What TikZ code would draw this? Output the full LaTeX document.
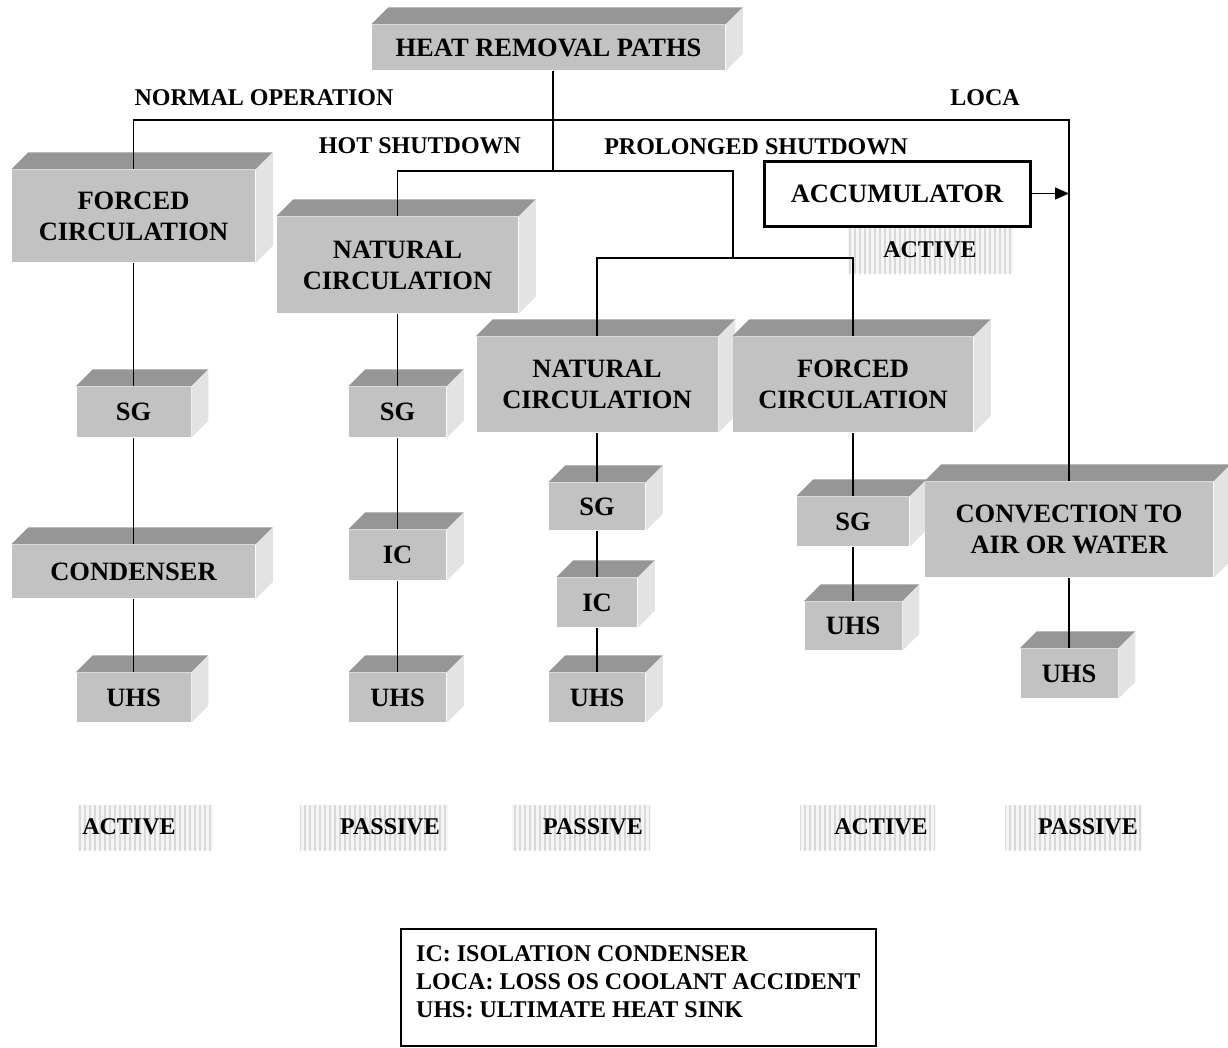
\documentclass[tikz,border=0pt]{standalone}
\usepackage{fontspec}
\setmainfont{Liberation Serif}
\usepackage{tikz}
\usetikzlibrary{arrows.meta, patterns.meta}

\definecolor{facefront}{gray}{0.76}
\definecolor{facetop}{gray}{0.59}
\definecolor{faceside}{gray}{0.89}

\begin{document}
\begin{tikzpicture}[x=1pt, y=-1pt, line width=1.5pt,
  font=\bfseries\fontsize{26.5}{31}\selectfont,
  blk/.style={rectangle, fill=facefront, inner sep=0pt, align=center,
    append after command={\pgfextra{\begin{pgfinterruptpath}
      \fill[facetop] (\tikzlastnode.north west) -- ([shift={(17,-17)}]\tikzlastnode.north west)
        -- ([shift={(17,-17)}]\tikzlastnode.north east) -- (\tikzlastnode.north east) -- cycle;
      \fill[faceside] (\tikzlastnode.north east) -- ([shift={(17,-17)}]\tikzlastnode.north east)
        -- ([shift={(17,-17)}]\tikzlastnode.south east) -- (\tikzlastnode.south east) -- cycle;
    \end{pgfinterruptpath}}}},
  lbl/.style={font=\bfseries\fontsize{24}{28}\selectfont, inner sep=0pt},
  hatch/.style={fill=gray!8, postaction={pattern={Lines[angle=90,distance=5pt,line width=1.6pt]}, pattern color=gray!30}},
  accbox/.style={draw, line width=3pt, fill=white, minimum width=266pt, minimum height=65pt, inner sep=0pt},
  keybox/.style={draw, anchor=north west, align=left, inner sep=0pt, minimum width=475pt,
    minimum height=117pt, font=\bfseries\fontsize{24}{28}\selectfont},
  link/.style={-{Triangle[length=14pt,width=12pt]}}]
  \useasboundingbox (0,0) rectangle (1228,1047);
  % top box
  \node[blk, minimum width=353pt, minimum height=45pt] (heat) at (548.5,47.5) {HEAT REMOVAL PATHS};
  % normal operation
  \node[blk, minimum width=243pt, minimum height=92pt] (fc1) at (133.5,216) {FORCED\\CIRCULATION};
  \node[blk, minimum width=114pt, minimum height=50pt] (sg1) at (133.5,412) {SG};
  \node[blk, minimum width=243pt, minimum height=53pt] (cond) at (133.5,571.5) {CONDENSER};
  \node[blk, minimum width=114pt, minimum height=49pt] (uhs1) at (133.5,697.5) {UHS};
  % hot shutdown
  \node[blk, minimum width=241pt, minimum height=96pt] (nc1) at (397.5,265) {NATURAL\\CIRCULATION};
  \node[blk, minimum width=97pt, minimum height=50pt] (sg2) at (397.5,412) {SG};
  \node[blk, minimum width=97pt, minimum height=50pt] (ic2) at (397.5,555) {IC};
  \node[blk, minimum width=97pt, minimum height=49pt] (uhs2) at (397.5,697.5) {UHS};
  % prolonged shutdown
  \node[blk, minimum width=241pt, minimum height=95pt] (nc2) at (597,384.5) {NATURAL\\CIRCULATION};
  \node[blk, minimum width=96pt, minimum height=47pt] (sg3) at (597,506.5) {SG};
  \node[blk, minimum width=80pt, minimum height=49pt] (ic3) at (597,602.5) {IC};
  \node[blk, minimum width=96pt, minimum height=49pt] (uhs3) at (597,697.5) {UHS};
  \node[blk, minimum width=240pt, minimum height=95pt] (fc2) at (853,384.5) {FORCED\\CIRCULATION};
  \node[blk, minimum width=112pt, minimum height=49pt] (sg4) at (853,521.5) {SG};
  \node[blk, minimum width=97pt, minimum height=48pt] (uhs4) at (853,626) {UHS};
  % loca
  \node[blk, minimum width=288pt, minimum height=95pt] (conv) at (1069,529.5) {CONVECTION TO\\AIR OR WATER};
  \node[blk, minimum width=97pt, minimum height=49pt] (uhs5) at (1069,673.5) {UHS};
  \node[accbox] (acc) at (897,193.5) {ACCUMULATOR};
  % path labels
  \node[lbl] (normal) at (264,98) {NORMAL OPERATION};
  \node[lbl] (loca) at (985,98) {LOCA};
  \node[lbl] (hot) at (420,146) {HOT SHUTDOWN};
  \node[lbl] (prol) at (756,147) {PROLONGED SHUTDOWN};
  % active / passive tags
  \fill[hatch] (848,228) rectangle (1013,273);
  \node[lbl] (tagacc) at (930,250) {ACTIVE};
  \fill[hatch] (78,805) rectangle (213,850);
  \fill[hatch] (300,805) rectangle (448,850);
  \fill[hatch] (512,805) rectangle (650,850);
  \fill[hatch] (800,805) rectangle (935,850);
  \fill[hatch] (1005,805) rectangle (1142,850);
  \node[lbl] (tag1) at (129,827) {ACTIVE};
  \node[lbl] (tag2) at (390,827) {PASSIVE};
  \node[lbl] (tag3) at (593,827) {PASSIVE};
  \node[lbl] (tag4) at (881,827) {ACTIVE};
  \node[lbl] (tag5) at (1088,827) {PASSIVE};
  % connectors
  \coordinate (hub) at (553,120);
  \coordinate (split) at (553,171);
  \coordinate (pjoin) at (733,258);
  \draw (heat.south -| hub) -- (split);
  \draw (hub) -| (fc1.north);
  \draw (hub) -| (conv.north);
  \draw (split) -| (nc1.north);
  \draw (split) -| (pjoin);
  \draw (pjoin) -| (nc2.north);
  \draw (pjoin) -| (fc2.north);
  \draw (fc1.south) -- (sg1.north); \draw (sg1.south) -- (cond.north); \draw (cond.south) -- (uhs1.north);
  \draw (nc1.south) -- (sg2.north); \draw (sg2.south) -- (ic2.north); \draw (ic2.south) -- (uhs2.north);
  \draw (nc2.south) -- (sg3.north); \draw (sg3.south) -- (ic3.north); \draw (ic3.south) -- (uhs3.north);
  \draw (fc2.south) -- (sg4.north); \draw (sg4.south) -- (uhs4.north);
  \draw (conv.south) -- (uhs5.north);
  \draw[link] (acc.east) -- (acc.east -| conv.north);
  % legend
  \node[keybox] (key) at (400,928) {IC: ISOLATION CONDENSER\\LOCA: LOSS OS COOLANT ACCIDENT\\UHS: ULTIMATE HEAT SINK\\[-16pt]\mbox{}};
\end{tikzpicture}
\end{document}
